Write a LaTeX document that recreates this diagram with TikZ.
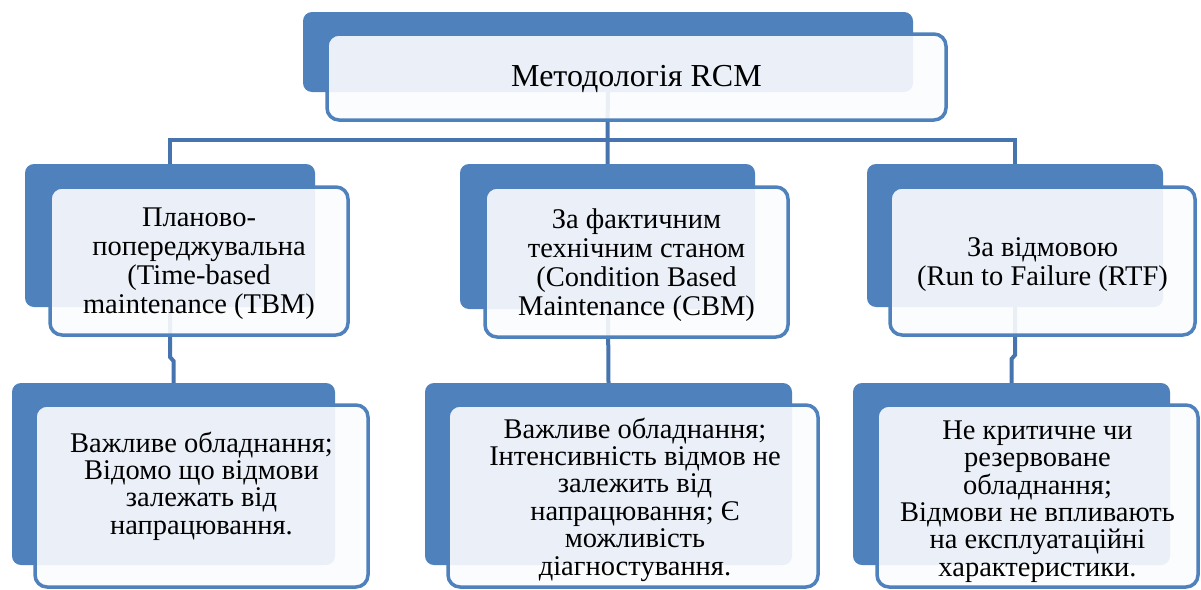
\documentclass[tikz,border=0pt]{standalone}
\usepackage{fontspec}
\setmainfont{Liberation Serif}
\newfontfamily\rcmfont{Liberation Serif}
\usetikzlibrary{backgrounds}
\definecolor{backblue}{HTML}{4F81BD}
\definecolor{lineblue}{HTML}{4774AE}
\definecolor{paneltint}{HTML}{FBFCFE}

\tikzset{
  backbox/.style={draw=none, fill=backblue, rounded corners=9pt, inner sep=0pt},
  frontbox/.style={draw=backblue, line width=3.5pt, fill=paneltint, fill opacity=0.91,
    rounded corners=12pt, inner sep=0pt},
  conn/.style={draw=lineblue, line width=4pt},
  boxtext/.style={align=center, text=black, inner sep=0pt},
  toptext/.style={boxtext, font=\rcmfont\fontsize{32}{34}\selectfont},
  midtext/.style={boxtext, font=\rcmfont\fontsize{28.5}{29}\selectfont},
  lowtext/.style={boxtext, font=\rcmfont\fontsize{28.5}{27.4}\selectfont},
}

\begin{document}
\begin{tikzpicture}[x=1pt, y=-1pt]
\useasboundingbox (0,0) rectangle (1201,589);

% ---- top level ----
\node[backbox, minimum width=610pt, minimum height=80pt] (rootB) at (608,52) {};
\node[frontbox, minimum width=619pt, minimum height=86pt] (rootF) at (636.5,77) {};
\node[toptext] (rootT) at (636.5,79) {Методологія RCM};

% ---- second level ----
\node[backbox, minimum width=290pt, minimum height=143pt] (bA) at (170,235.5) {};
\node[frontbox, minimum width=298pt, minimum height=148pt] (fA) at (199,261) {};
\node[midtext] (tA) at (199,264) {Планово-\\попереджувальна\\(Time-based\\maintenance (TBM)};

\node[backbox, minimum width=295pt, minimum height=145pt] (bB) at (607.5,236.5) {};
\node[frontbox, minimum width=303pt, minimum height=150pt] (fB) at (636.5,262) {};
\node[midtext] (tB) at (636.5,265) {За фактичним\\технічним станом\\(Condition Based\\Maintenance (CBM)};

\node[backbox, minimum width=296pt, minimum height=143pt] (bC) at (1015,235.5) {};
\node[frontbox, minimum width=305pt, minimum height=148pt] (fC) at (1042.5,261) {};
\node[midtext] (tC) at (1042.5,264.5) {За відмовою\\(Run to Failure (RTF)};

% ---- third level ----
\node[backbox, minimum width=323pt, minimum height=182pt] (cA) at (173.5,474) {};
\node[frontbox, minimum width=333pt, minimum height=182pt] (gA) at (201.5,496) {};
\node[lowtext] (uA) at (201.5,486) {Важливе обладнання;\\Відомо що відмови\\залежать від\\напрацювання.};

\node[backbox, minimum width=367pt, minimum height=182pt] (cB) at (608.5,474) {};
\node[frontbox, minimum width=370pt, minimum height=182pt] (gB) at (633,496) {};
\node[lowtext] (uB) at (635,499.5) {Важливе обладнання;\\Інтенсивність відмов не\\залежить від\\напрацювання; Є\\можливість\\діагностування.};

\node[backbox, minimum width=317pt, minimum height=182pt] (cC) at (1011.5,474) {};
\node[frontbox, minimum width=321pt, minimum height=182pt] (gC) at (1037.5,496) {};
\node[lowtext] (uC) at (1037.5,501.5) {Не критичне чи\\резервоване\\обладнання;\\Відмови не впливають\\на експлуатаційні\\характеристики.};

% ---- connectors ----
\begin{scope}[on background layer]
  \draw[conn] (rootB.center) -- (bB.north);
  \draw[conn] (bA.north) -- (bA.north |- 0,140) -- (bC.north |- 0,140) -- (bC.north);
  \draw[conn] (bA.south) -- (bA.south |- 0,357) -- (cA.north |- 0,361) -- (cA.north);
  \draw[conn] (bB.center) -- (cB.north);
  \draw[conn] (bC.south) -- (bC.south |- 0,355) -- (cC.north |- 0,359) -- (cC.north);
\end{scope}
\end{tikzpicture}
\end{document}
